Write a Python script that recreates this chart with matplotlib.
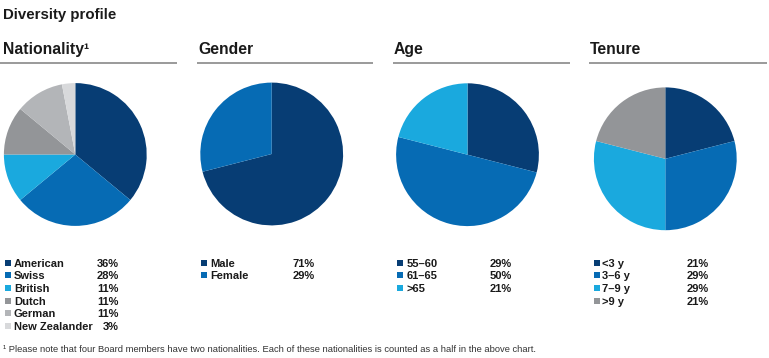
import matplotlib
matplotlib.use("Agg")
import matplotlib.pyplot as plt
from matplotlib.patches import Rectangle

plt.rcParams['font.family'] = ['Liberation Sans', 'DejaVu Sans']

# data
nat_labels = ["American", "Swiss", "British", "Dutch", "German", "New Zealander"]
nat_values = [36, 28, 11, 11, 11, 3]
gender_labels = ["Male", "Female"]
gender_values = [71, 29]
age_labels = ["55–60", "61–65", ">65"]
age_values = [29, 50, 21]
tenure_labels = ["<3 y", "3–6 y", "7–9 y", ">9 y"]
tenure_values = [21, 29, 29, 21]

navy = "#073d74"
blue = "#066bb4"
sky = "#1aa9de"
grey1 = "#939598"
grey2 = "#b3b5b8"
grey3 = "#d8d9db"
nat_colors = [navy, blue, sky, grey1, grey2, grey3]
gender_colors = [navy, blue]
age_colors = [navy, blue, sky]
tenure_colors = [navy, blue, sky, grey1]

W, H = 769, 358
fig = plt.figure(figsize=(W / 100, H / 100), dpi=100)
ax = fig.add_axes([0, 0, 1, 1])
ax.set_xlim(0, W)
ax.set_ylim(H, 0)
ax.axis("off")

txt = "#1a1a1a"
ax.text(3, 19, "Diversity profile", fontsize=10.8, fontweight="bold", color=txt, va="baseline")

panels = [
    ("Nationality¹", nat_labels, nat_values, nat_colors, 0, 177, 75.3, 154.5, 4.5, 14, 119),
    ("Gender", gender_labels, gender_values, gender_colors, 197, 373, 271.7, 154, 200.5, 210, 315),
    ("Age", age_labels, age_values, age_colors, 393, 570, 467.5, 154.7, 397, 406.5, 511.7),
    ("Tenure", tenure_labels, tenure_values, tenure_colors, 589, 766.5, 665.3, 158.8, 593.5, 602.5, 708.3),
]

r = 71.4
for title, labels, values, colors, x0, x1, cx, cy, sq_x, lab_x, pct_x in panels:
    ax.text(x0 + 3 if x0 == 0 else x0 + 1, 54, title, fontsize=11.3, fontweight="bold", color=txt, va="baseline")
    ax.plot([x0, x1], [63, 63], color="#9a9a9a", lw=1.4, solid_capstyle="butt")

    pax = fig.add_axes([(cx - r) / W, 1 - (cy + r) / H, 2 * r / W, 2 * r / H])
    pax.pie(values, colors=colors, startangle=90, counterclock=False, radius=1,
            wedgeprops=dict(linewidth=0))
    pax.set_xlim(-1, 1)
    pax.set_ylim(-1, 1)
    pax.set_aspect("auto")
    pax.axis("off")

    for i, (lab, val) in enumerate(zip(labels, values)):
        y = 262.6 + i * 12.7
        ax.add_patch(Rectangle((sq_x, y - 3), 6, 6, color=colors[i], lw=0))
        ax.text(lab_x, y + 4, lab, fontsize=8, fontweight="bold", color=txt, va="baseline")
        ax.text(pct_x, y + 4, f"{val}%", fontsize=8, fontweight="bold", color=txt,
                va="baseline", ha="right")

ax.text(3, 352, "¹ Please note that four Board members have two nationalities. Each of these nationalities is counted as a half in the above chart.",
        fontsize=6.75, color="#333333", va="baseline")

fig.savefig("out.png", dpi=100)
